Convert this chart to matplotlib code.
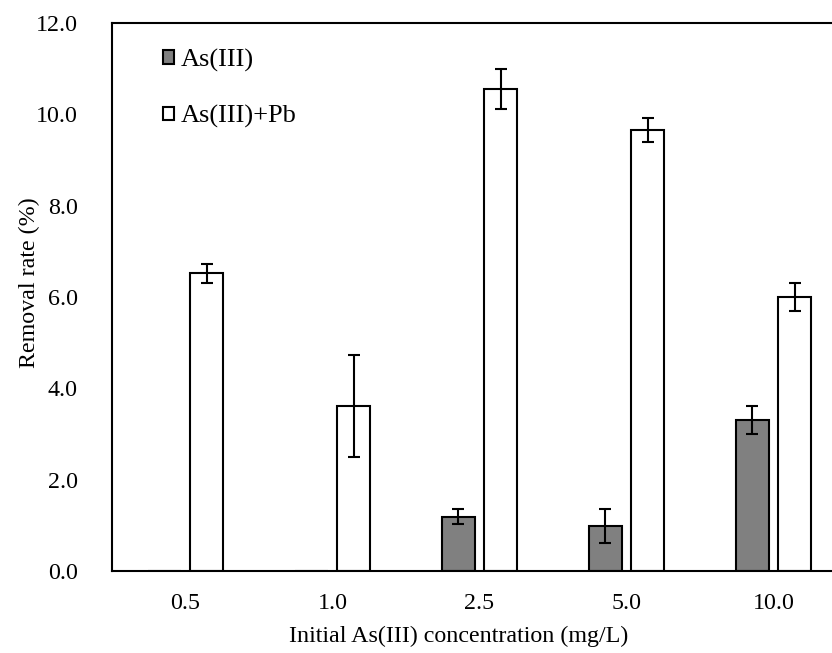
import matplotlib
matplotlib.use("Agg")
import matplotlib.pyplot as plt
import numpy as np

categories = ["0.5", "1.0", "2.5", "5.0", "10.0"]
as3 = [0.0, 0.0, 1.19, 0.98, 3.31]
as3_err = [0.0, 0.0, 0.17, 0.37, 0.30]
as3pb = [6.52, 3.62, 10.55, 9.66, 6.00]
as3pb_err = [0.21, 1.12, 0.44, 0.26, 0.30]
yticks = [0, 2, 4, 6, 8, 10, 12]

plt.rcParams['font.family'] = ['Liberation Serif', 'DejaVu Serif']
plt.rcParams['font.size'] = 17.3

fig = plt.figure(figsize=(8.32, 6.53), dpi=100)
ax = fig.add_axes([112/832, 82/653, 735/832, 548/653])

x = np.arange(len(categories))
w = 0.231
off = 0.143
ek = dict(ecolor='black', elinewidth=1.5, capsize=4, capthick=1.5)
ax.bar(x - off, as3, w, color='#808080', edgecolor='black', linewidth=1.5,
       yerr=[e if e > 0 else np.nan for e in as3_err], error_kw=ek, label='As(III)')
ax.bar(x + off, as3pb, w, color='white', edgecolor='black', linewidth=1.5,
       yerr=as3pb_err, error_kw=ek, label='As(III)+Pb')

ax.set_xlim(-0.5, len(categories) - 0.5)
ax.set_ylim(0, 12)
ax.set_xticks(x)
ax.set_xticklabels(categories)
ax.set_yticks(yticks)
ax.set_yticklabels([f"{v:.1f}" for v in yticks])
ax.tick_params(axis='both', length=0)
ax.tick_params(axis='x', pad=16)
ax.tick_params(axis='y', pad=24.5)
for s in ax.spines.values():
    s.set_linewidth(1.5)
    s.set_color('black')
ax.spines['right'].set_visible(False)

ax.set_xlabel("Initial As(III) concentration (mg/L)", labelpad=8)
ax.set_ylabel("Removal rate (%)", labelpad=-3)
ax.xaxis.label.set_x(0.472)
ax.yaxis.label.set_y(0.527)

ax.legend(loc='upper left', bbox_to_anchor=(0.069, 0.953), frameon=False,
          fontsize=19, handlelength=0.42, handleheight=0.42, handletextpad=0.28,
          labelspacing=1.27, borderpad=0, borderaxespad=0)

fig.savefig("out.png", dpi=100)
